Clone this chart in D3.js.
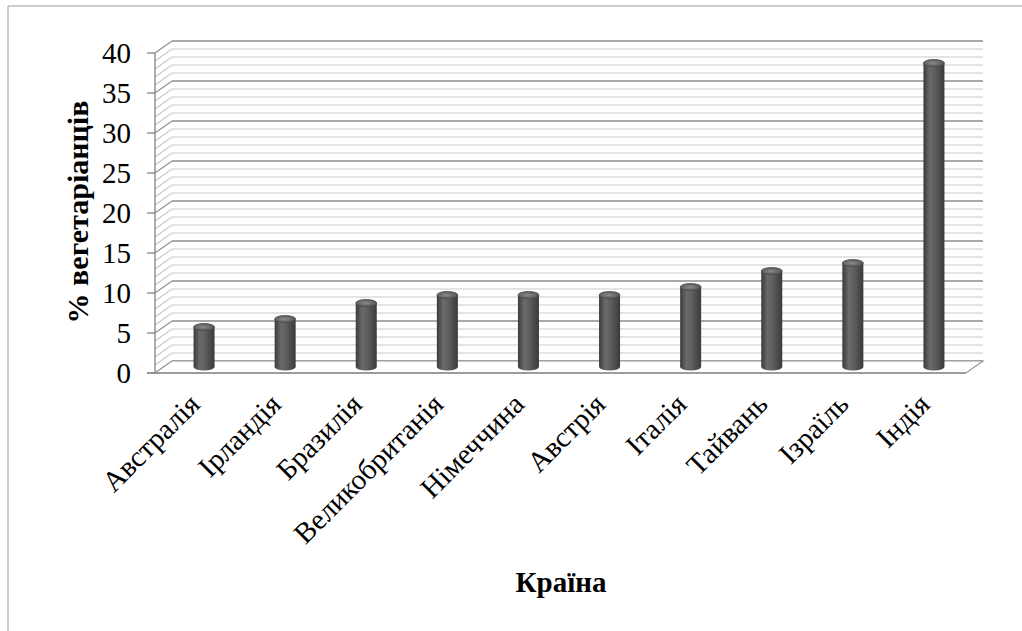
<!DOCTYPE html>
<html>
<head>
<meta charset="utf-8">
<script src="https://cdn.jsdelivr.net/npm/d3@7"></script>
<style>
  body { margin: 0; background: #fff; }
  text { font-family: "Liberation Serif", "Times New Roman", serif; fill: #000; }
</style>
</head>
<body>
<svg id="chart" width="1022" height="631"></svg>
<script>
// Дані
const countries = ['Австралія', 'Ірландія', 'Бразилія', 'Великобританія', 'Німеччина',
    'Австрія', 'Італія', 'Тайвань', 'Ізраїль', 'Індія']
const values = [5, 6, 8, 9, 9, 9, 10, 12, 13, 38]
const yTicks = [0, 5, 10, 15, 20, 25, 30, 35, 40]
const yTitle = '% вегетаріанців'
const xTitle = 'Країна'

const svg = d3.select('#chart')
const W = 1022, H = 631

// Глибина псевдо-3D
const depthX = 17, depthY = -12

const x = d3.scaleBand().domain(countries).range([155, 966]).paddingInner(0).paddingOuter(0)
const y = d3.scaleLinear().domain([0, 40]).range([373, 53])

// Рамка (тільки зверху та зліва)
svg.append('line').attr('x1', 8).attr('y1', 6).attr('x2', W).attr('y2', 6)
    .attr('stroke', '#bdbdbd').attr('stroke-width', 1.5)
svg.append('line').attr('x1', 8).attr('y1', 6).attr('x2', 8).attr('y2', H)
    .attr('stroke', '#bdbdbd').attr('stroke-width', 1.5)

const x0 = x.range()[0], x1 = x.range()[1]
const minor = d3.range(0, 41, 1)

// Задня стінка: лінії сітки
const grid = svg.append('g')
grid.selectAll('line.back')
    .data(minor)
    .join('line')
    .attr('x1', x0 + depthX).attr('x2', x1 + depthX)
    .attr('y1', d => y(d) + depthY).attr('y2', d => y(d) + depthY)
    .attr('stroke', d => d % 5 === 0 ? '#8c8c8c' : '#c9c9c9')
    .attr('stroke-width', d => d % 5 === 0 ? 1.4 : 1.2)

// Бічна стінка: діагоналі
grid.selectAll('line.side')
    .data(minor)
    .join('line')
    .attr('x1', x0).attr('y1', d => y(d))
    .attr('x2', x0 + depthX).attr('y2', d => y(d) + depthY)
    .attr('stroke', d => d % 5 === 0 ? '#8c8c8c' : '#c9c9c9')
    .attr('stroke-width', 1.1)

// Підлога
svg.append('path')
    .attr('d', `M${x0},${y(0)}L${x1},${y(0)}L${x1 + depthX},${y(0) + depthY}L${x0 + depthX},${y(0) + depthY}Z`)
    .attr('fill', '#fff').attr('stroke', '#9a9a9a').attr('stroke-width', 1.2)

// Вісь Y
const yAxis = svg.append('g')
yAxis.append('line').attr('x1', x0).attr('x2', x0).attr('y1', y(40)).attr('y2', y(0))
    .attr('stroke', '#8c8c8c').attr('stroke-width', 1.4)
yAxis.selectAll('line.tick')
    .data(yTicks)
    .join('line')
    .attr('x1', x0 - 8).attr('x2', x0)
    .attr('y1', d => y(d)).attr('y2', d => y(d))
    .attr('stroke', '#8c8c8c').attr('stroke-width', 1.4)
yAxis.selectAll('text')
    .data(yTicks)
    .join('text')
    .attr('x', 131).attr('y', d => y(d))
    .attr('dy', '0.35em')
    .attr('text-anchor', 'end')
    .style('font-size', '29px')
    .text(d => d)
// нижня лінія осі X продовжується вліво
svg.append('line').attr('x1', x0 - 8).attr('x2', x1).attr('y1', y(0)).attr('y2', y(0))
    .attr('stroke', '#8c8c8c').attr('stroke-width', 1.4)

// Градієнт циліндра
const defs = svg.append('defs')
const grad = defs.append('linearGradient').attr('id', 'cyl').attr('x1', '0%').attr('x2', '100%')
grad.append('stop').attr('offset', '0%').attr('stop-color', '#3a3a3a')
grad.append('stop').attr('offset', '30%').attr('stop-color', '#6a6a6a')
grad.append('stop').attr('offset', '55%').attr('stop-color', '#5e5e5e')
grad.append('stop').attr('offset', '100%').attr('stop-color', '#3a3a3a')
const topGrad = defs.append('radialGradient').attr('id', 'cylTop').attr('cx', '45%').attr('cy', '50%')
topGrad.append('stop').attr('offset', '0%').attr('stop-color', '#8a8a8a')
topGrad.append('stop').attr('offset', '100%').attr('stop-color', '#5a5a5a')

// Циліндри
const bw = 21, ry = 3.5
const cx = d => x(d) + x.bandwidth() / 2 + depthX / 2
const by = v => y(v) + depthY / 2

const bars = svg.append('g')
    .selectAll('g.bar')
    .data(countries.map((c, i) => ({ c, v: values[i] })))
    .join('g')
    .attr('class', 'bar')

bars.append('ellipse')
    .attr('cx', d => cx(d.c)).attr('cy', by(0))
    .attr('rx', bw / 2).attr('ry', ry)
    .attr('fill', 'url(#cyl)')
bars.append('rect')
    .attr('x', d => cx(d.c) - bw / 2).attr('width', bw)
    .attr('y', d => by(d.v)).attr('height', d => by(0) - by(d.v))
    .attr('fill', 'url(#cyl)')
bars.append('ellipse')
    .attr('cx', d => cx(d.c)).attr('cy', d => by(d.v))
    .attr('rx', bw / 2).attr('ry', ry)
    .attr('fill', 'url(#cylTop)').attr('stroke', '#4a4a4a').attr('stroke-width', 0.8)

// Підписи категорій
svg.append('g')
    .selectAll('text')
    .data(countries)
    .join('text')
    .attr('transform', d => `translate(${x(d) + x.bandwidth() / 2 + 6},${406}) rotate(-45)`)
    .attr('text-anchor', 'end')
    .style('font-size', '29px')
    .text(d => d)

// Назви осей
svg.append('text')
    .attr('transform', 'translate(77,212) rotate(-90)')
    .attr('text-anchor', 'middle')
    .attr('dy', '0.35em')
    .style('font-size', '30px').style('font-weight', 'bold')
    .text(yTitle)

svg.append('text')
    .attr('x', 561).attr('y', 592)
    .attr('text-anchor', 'middle')
    .style('font-size', '29px').style('font-weight', 'bold')
    .text(xTitle)
</script>
</body>
</html>
